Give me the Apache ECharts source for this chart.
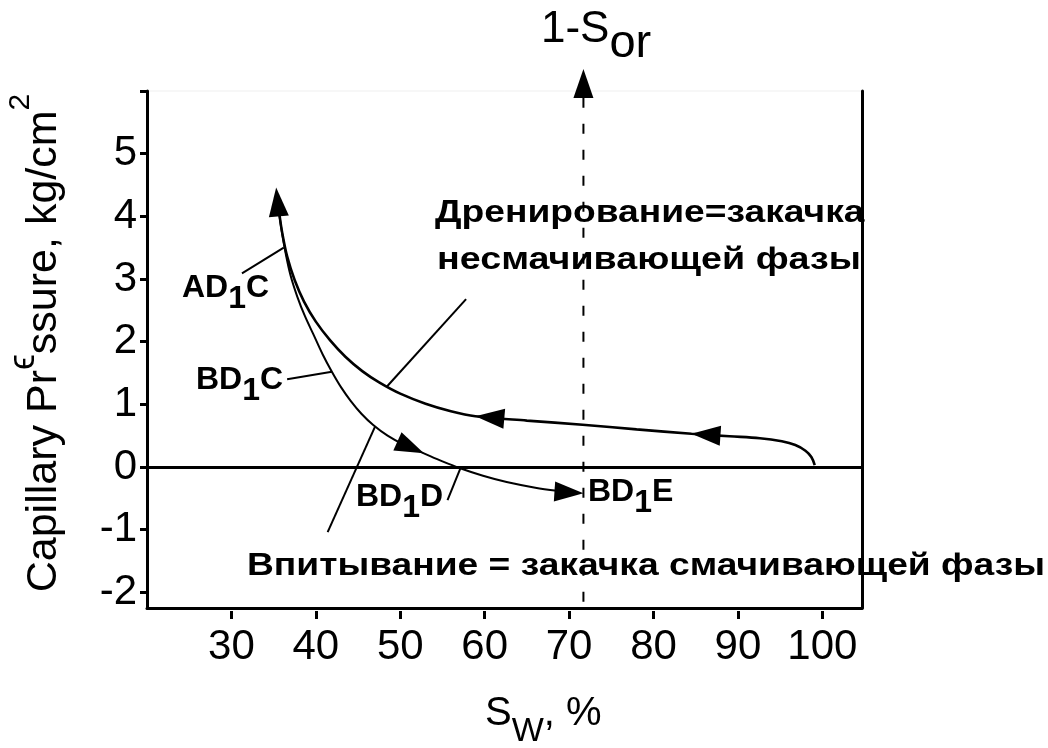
<!DOCTYPE html>
<html>
<head>
<meta charset="utf-8">
<script src="https://cdn.jsdelivr.net/npm/echarts@6/dist/echarts.min.js"></script>
<style>
  html, body { margin: 0; padding: 0; background: #fff; }
  #chart { width: 1048px; height: 748px; }
</style>
</head>
<body>
<div id="chart"></div>
<script>
// Drainage branch (non-wetting phase injection), traced from high Sw toward low Sw
const drainageSw = [99.1, 98.7, 98.0, 96.8, 95.2, 92.6, 89.0, 84.5, 78.0, 71.6, 65.0, 58.9, 56.0, 53.0, 50.0, 47.5, 45.5, 43.5, 41.7, 40.0, 38.6, 37.5, 36.6, 36.0, 35.7, 35.45];
const drainagePc = [0.03, 0.16, 0.26, 0.35, 0.41, 0.46, 0.49, 0.53, 0.60, 0.675, 0.74, 0.81, 0.89, 1.01, 1.17, 1.35, 1.53, 1.76, 2.02, 2.32, 2.64, 2.98, 3.36, 3.75, 4.02, 4.30];

// Imbibition branch (wetting phase injection), from the top of the drainage curve to 1-Sor
const imbibitionSw = [35.5, 35.9, 36.4, 37.0, 37.8, 38.7, 39.7, 40.8, 41.9, 43.0, 44.1, 45.4, 46.8, 48.5, 50.5, 52.6, 55.0, 57.1, 59.8, 62.6, 66.0, 69.0, 70.8];
const imbibitionPc = [4.20, 3.82, 3.43, 3.06, 2.72, 2.41, 2.12, 1.80, 1.52, 1.27, 1.06, 0.85, 0.67, 0.50, 0.35, 0.23, 0.09, -0.02, -0.14, -0.24, -0.33, -0.385, -0.41];

// 1 - Sor marker line
const sorSw = [71.7, 71.7];
const sorPc = [-2.15, 5.95];

// Direction arrows: tip point and a point behind it along the curve
const arrowTipSw  = [35.3, 84.5, 58.9, 52.8, 71.7, 71.7];
const arrowTipPc  = [4.46, 0.53, 0.81, 0.22, -0.42, 6.35];
const arrowTailSw = [35.6, 90.0, 64.0, 49.5, 66.0, 71.7];
const arrowTailPc = [4.03, 0.48, 0.75, 0.42, -0.37, 5.0];

// Leader lines from the annotations to the curves
const leaderSw = [[31.25, 36.2], [36.6, 41.9], [57.8, 48.4], [47.0, 41.4], [57.1, 55.6]];
const leaderPc = [[3.09, 3.5], [1.40, 1.52], [2.68, 1.28], [0.64, -1.04], [-0.03, -0.53]];

// Axis ticks and labels
const xTicks = [30, 40, 50, 60, 70, 80, 90, 100];
const yTicks = [-2, -1, 0, 1, 2, 3, 4, 5, 6];
const yLabels = [-2, -1, 0, 1, 2, 3, 4, 5];

const SANS = "'Liberation Sans', Arial, Helvetica, sans-serif";
const zip = (a, b) => a.map((v, i) => [v, b[i]]);

function renderArrow(params, api) {
  const tip = api.coord([api.value(0), api.value(1)]);
  const tail = api.coord([api.value(2), api.value(3)]);
  let dx = tip[0] - tail[0], dy = tip[1] - tail[1];
  const len = Math.hypot(dx, dy) || 1;
  dx /= len; dy /= len;
  const L = 29, H = 10;
  const bx = tip[0] - dx * L, by = tip[1] - dy * L;
  return {
    type: 'polygon',
    shape: { points: [tip, [bx - dy * H, by + dx * H], [bx + dy * H, by - dx * H]] },
    style: { fill: '#000' }
  };
}

function txt(x, y, text, rich, extra, align) {
  const a = align || 'left';
  return Object.assign({
    type: 'text', x: x, y: y, z: 10,
    style: {
      text: text, rich: rich, fill: '#000',
      align: a, textAlign: a,
      verticalAlign: 'middle', textVerticalAlign: 'middle'
    }
  }, extra || {});
}

const labelRich = {
  m: { fontSize: 32, fontWeight: 'bold', fontFamily: SANS, fill: '#000' },
  d: { fontSize: 32, fontWeight: 'bold', fontFamily: SANS, fill: '#000', padding: [22, 0, 0, 0] }
};
const noteRich = {
  m: { fontSize: 31, fontWeight: 'bold', fontFamily: SANS, fill: '#000' }
};

const chart = echarts.init(document.getElementById('chart'), null, { renderer: 'canvas' });

const leaderSeries = leaderSw.map((sw, i) => ({
  type: 'line', xAxisIndex: 0, yAxisIndex: 0,
  data: zip(sw, leaderPc[i]),
  symbol: 'none', silent: true, z: 3,
  lineStyle: { color: '#000', width: 2 }
}));

chart.setOption({
  animation: false,
  backgroundColor: '#fff',
  grid: { left: 147, right: 186, top: 91, bottom: 140, show: true, borderColor: '#efefef', borderWidth: 1 },
  xAxis: [
    {
      type: 'value', min: 20, max: 104.7, position: 'bottom',
      axisLine: { show: true, onZero: false, lineStyle: { color: '#000', width: 3 } },
      axisTick: { show: false }, axisLabel: { show: false }, splitLine: { show: false }
    },
    {
      type: 'value', min: 20, max: 104.7, position: 'bottom', offset: 3,
      axisLine: { show: false, onZero: false },
      axisTick: { show: true, length: 8, customValues: xTicks, lineStyle: { color: '#000', width: 3 } },
      axisLabel: { customValues: xTicks, margin: 15, fontSize: 42, fontFamily: SANS, color: '#000', lineHeight: 42 },
      splitLine: { show: false }
    }
  ],
  yAxis: [
    {
      type: 'value', min: -2.25, max: 6,
      axisLine: { show: true, onZero: false, lineStyle: { color: '#000', width: 3 } },
      axisTick: { show: true, length: 7, customValues: yTicks, lineStyle: { color: '#000', width: 3 } },
      axisLabel: { customValues: yLabels, margin: 10, fontSize: 42, fontFamily: SANS, color: '#000' },
      splitLine: { show: false }
    },
    {
      type: 'value', min: -2.25, max: 6, position: 'right',
      axisLine: { show: true, onZero: false, lineStyle: { color: '#000', width: 3 } },
      axisTick: { show: false }, axisLabel: { show: false }, splitLine: { show: false }
    }
  ],
  series: [
    {
      name: 'drainage', type: 'line', xAxisIndex: 0, yAxisIndex: 0,
      data: zip(drainageSw, drainagePc),
      smooth: 0.35, symbol: 'none', z: 4,
      lineStyle: { color: '#000', width: 2.6 },
      markLine: {
        silent: true, symbol: ['none', 'none'], label: { show: false },
        lineStyle: { color: '#000', width: 3, type: 'solid' },
        data: [{ yAxis: 0 }]
      }
    },
    {
      name: 'imbibition', type: 'line', xAxisIndex: 0, yAxisIndex: 0,
      data: zip(imbibitionSw, imbibitionPc),
      smooth: 0.35, symbol: 'none', z: 4,
      lineStyle: { color: '#000', width: 2 }
    },
    {
      name: '1-Sor', type: 'line', xAxisIndex: 0, yAxisIndex: 0,
      data: zip(sorSw, sorPc), clip: false,
      symbol: 'none', z: 2,
      lineStyle: { color: '#000', width: 2, type: [10, 16] }
    },
    ...leaderSeries,
    {
      name: 'arrows', type: 'custom', xAxisIndex: 0, yAxisIndex: 0,
      clip: false, z: 6, silent: true,
      renderItem: renderArrow,
      data: arrowTipSw.map((sw, i) => [sw, arrowTipPc[i], arrowTailSw[i], arrowTailPc[i]])
    }
  ],
  graphic: [
    // axis titles
    txt(44, 343, '{m|Capillary Pr}{e|ϵ}{m|ssure, kg/cm}{s|2}', {
      m: { fontSize: 43, fontFamily: SANS, fill: '#000' },
      e: { fontSize: 36, fontFamily: SANS, fill: '#000', padding: [0, 0, 40, 0] },
      s: { fontSize: 30, fontFamily: SANS, fill: '#000', padding: [0, 0, 46, 0] }
    }, { rotation: Math.PI / 2 }, 'center'),
    txt(485, 714, '{m|S}{d|W}{m|, %}', {
      m: { fontSize: 40, fontFamily: SANS, fill: '#000' },
      d: { fontSize: 34, fontFamily: SANS, fill: '#000', padding: [36, 0, 0, 0] }
    }),
    txt(541, 30, '{m|1-S}{d|or}', {
      m: { fontSize: 44, fontFamily: SANS, fill: '#000' },
      d: { fontSize: 47, fontFamily: SANS, fill: '#000', padding: [28, 0, 0, 0] }
    }),
    // curve labels
    txt(182, 288, '{m|AD}{d|1}{m|C}', labelRich),
    txt(196, 380, '{m|BD}{d|1}{m|C}', labelRich),
    txt(356, 497, '{m|BD}{d|1}{m|D}', labelRich),
    txt(588, 492, '{m|BD}{d|1}{m|E}', labelRich),
    // process notes
    txt(435, 213, '{m|Дренирование=закачка}', noteRich, { scaleX: 1.2 }),
    txt(437, 260, '{m|несмачивающей фазы}', noteRich, { scaleX: 1.215 }),
    txt(247, 566, '{m|Впитывание = закачка смачивающей фазы}', noteRich, { scaleX: 1.2 })
  ]
});
</script>
</body>
</html>
